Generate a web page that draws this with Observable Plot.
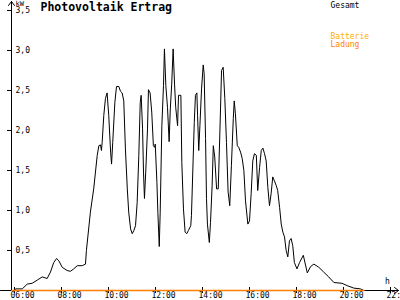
<!DOCTYPE html>
<html><head><meta charset="utf-8">
<script src="https://cdn.jsdelivr.net/npm/d3@7"></script>
<script src="https://cdn.jsdelivr.net/npm/@observablehq/plot@0.6"></script>
<style>body{margin:0;background:#fff;} #chart svg{display:block;}</style>
</head><body><div id="chart"></div>
<script>
// time in decimal hours
const gesamtTimes = [6.00,6.04,6.33,6.54,6.75,6.97,7.18,7.39,7.53,7.67,7.79,7.89,8.03,8.24,8.38,8.52,8.67,8.88,9.02,9.06,9.23,9.37,9.52,9.59,9.66,9.70,9.73,9.80,9.87,9.94,10.01,10.09,10.13,10.18,10.27,10.34,10.44,10.51,10.58,10.65,10.72,10.80,10.86,10.94,11.01,11.08,11.15,11.22,11.29,11.35,11.39,11.45,11.49,11.53,11.59,11.66,11.70,11.77,11.84,11.91,11.96,11.99,12.06,12.10,12.16,12.20,12.27,12.34,12.38,12.44,12.51,12.58,12.63,12.69,12.75,12.81,12.86,12.94,12.98,13.08,13.12,13.19,13.26,13.33,13.40,13.50,13.53,13.60,13.65,13.70,13.76,13.79,13.84,13.89,13.96,14.03,14.07,14.13,14.17,14.21,14.29,14.34,14.41,14.46,14.52,14.60,14.67,14.74,14.81,14.88,14.95,15.02,15.09,15.16,15.23,15.31,15.35,15.40,15.48,15.54,15.62,15.69,15.76,15.83,15.93,16.00,16.07,16.14,16.21,16.29,16.35,16.43,16.50,16.57,16.64,16.71,16.78,16.85,16.92,16.99,17.06,17.14,17.20,17.28,17.35,17.42,17.49,17.56,17.63,17.70,17.77,17.84,17.91,18.02,18.13,18.29,18.46,18.60,18.74,18.95,19.16,19.37,19.59,19.94,20.16,20.44,20.72,20.87,22.00];
const gesamtKW = [0.00,0.02,0.02,0.08,0.09,0.13,0.17,0.15,0.23,0.35,0.40,0.37,0.29,0.25,0.24,0.27,0.31,0.31,0.33,0.50,0.98,1.27,1.69,1.81,1.82,1.75,1.85,2.19,2.40,2.47,2.19,1.73,1.58,1.85,2.35,2.55,2.55,2.49,2.47,2.37,1.77,1.27,0.98,0.77,0.71,0.75,0.81,1.10,1.69,2.35,2.44,2.02,1.48,1.15,1.52,2.02,2.51,2.47,2.23,1.81,1.79,1.83,1.35,0.98,0.55,0.98,2.06,2.56,3.02,2.56,2.29,1.86,2.27,2.58,3.02,2.58,2.29,2.06,2.44,2.44,1.60,1.02,0.73,0.71,0.75,0.81,0.94,1.62,2.10,2.44,2.47,2.19,1.75,2.06,2.52,2.82,2.71,1.90,1.15,0.83,0.60,0.85,1.31,1.81,1.67,1.27,1.27,1.98,2.75,2.79,2.40,1.85,1.23,1.06,1.56,2.15,2.37,2.21,1.81,1.79,1.73,1.65,1.50,1.12,0.83,0.87,1.21,1.62,1.71,1.69,1.25,1.54,1.75,1.78,1.71,1.62,1.29,1.06,1.21,1.42,1.37,1.31,1.25,1.04,0.83,0.73,0.67,0.50,0.42,0.62,0.65,0.56,0.35,0.27,0.35,0.44,0.22,0.30,0.33,0.29,0.23,0.17,0.10,0.09,0.06,0.03,0.02,0.00,0.00];
const ladungTimes = [5.88, 20.87];
const ladungKW = [0, 0];
const yTicks = [0.5, 1, 1.5, 2, 2.5, 3, 3.5];
const xTicks = [6, 8, 10, 12, 14, 16, 18, 20, 22];
const titleText = "Photovoltaik Ertrag";
const unitText = "kW";
const xUnitText = "h";
const legendNames = ["Gesamt", "Batterie", "Ladung"];
const legendColors = ["#000000", "#ffb000", "#ff8000"];

const gesamt = gesamtTimes.map((t, i) => ({t, v: gesamtKW[i]}));
const ladung = ladungTimes.map((t, i) => ({t, v: ladungKW[i]}));
const fmtY = d => d.toFixed(1).replace(".", ",");
const fmtX = d => String(d).padStart(2, "0") + ":00";
const mono = "DejaVu Sans Mono";

const chart = Plot.plot({
  width: 400, height: 300,
  marginLeft: 14, marginRight: 10, marginTop: 10, marginBottom: 10,
  x: {domain: [6, 22], axis: null, label: null},
  y: {domain: [0, 3.5], axis: null, label: null},
  style: {fontFamily: mono, fontSize: "8px", background: "#fff", color: "#000"},
  marks: [
    Plot.axisY(yTicks, {tickSize: 5, dx: -2, fill: "none", label: null}),
    Plot.axisY(yTicks, {tickSize: 0, tickPadding: -1, textAnchor: "start", tickFormat: fmtY, label: null}),
    Plot.axisX(xTicks, {tickSize: 6, dy: -3, fill: "none", label: null}),
    Plot.axisX(xTicks, {tickSize: 0, tickPadding: 2, dx: -4, textAnchor: "start", tickFormat: fmtX, label: null}),
    Plot.arrow([0], {x1: 6, x2: 6, y1: 0, y2: 3.5, dx: -3, insetEnd: -9, stroke: "#000", strokeWidth: 1, headLength: 7.5, headAngle: 74}),
    Plot.arrow([0], {x1: 6, x2: 22, y1: 0, y2: 0, insetStart: -14, insetEnd: -8, stroke: "#000", strokeWidth: 1, headLength: 7.5, headAngle: 74}),
    Plot.line(gesamt, {x: "t", y: "v", stroke: legendColors[0], strokeWidth: 1}),
    Plot.line(ladung, {x: "t", y: "v", stroke: legendColors[2], strokeWidth: 1.3}),
    Plot.text([titleText], {frameAnchor: "top-left", dx: 26, dy: -7.5, textAnchor: "start", lineAnchor: "top", fontWeight: "bold", fontSize: 11.5}),
    Plot.text([unitText], {frameAnchor: "top-left", dx: 1, dy: -9.5, textAnchor: "start", lineAnchor: "top", fontSize: 7}),
    Plot.text([xUnitText], {frameAnchor: "bottom-right", dx: -3, dy: -7, textAnchor: "middle", lineAnchor: "bottom", fontSize: 8}),
    Plot.text([legendNames[0]], {frameAnchor: "top-right", dx: -60, dy: -8.4, textAnchor: "start", lineAnchor: "top", fill: legendColors[0]}),
    Plot.text([legendNames[1]], {frameAnchor: "top-right", dx: -60, dy: 22.6, textAnchor: "start", lineAnchor: "top", fill: legendColors[1]}),
    Plot.text([legendNames[2]], {frameAnchor: "top-right", dx: -60, dy: 31, textAnchor: "start", lineAnchor: "top", fill: legendColors[2]})
  ]
});
document.getElementById("chart").appendChild(chart);
</script>
</body></html>
